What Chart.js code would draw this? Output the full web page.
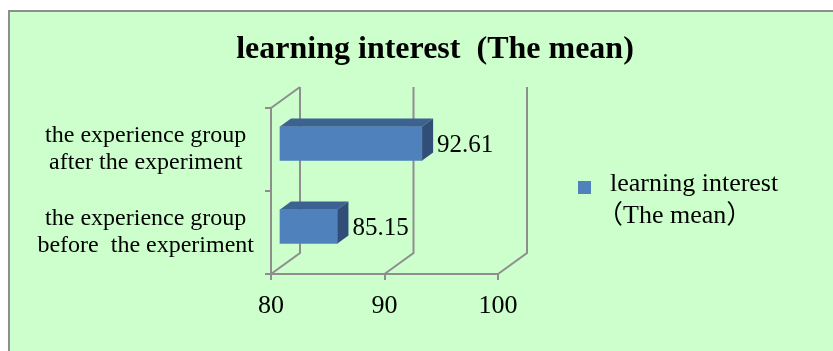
<!DOCTYPE html>
<html>
<head>
<meta charset="utf-8">
<script src="https://cdn.jsdelivr.net/npm/chart.js@4.4.0/dist/chart.umd.min.js"></script>
<style>
  html, body { margin: 0; padding: 0; background: #fff; }
  #wrap { width: 833px; height: 351px; }
</style>
</head>
<body>
<div id="wrap"><canvas id="chart" width="833" height="351"></canvas></div>
<script>
// data
const categories = [
    ["the experience group", "after the experiment"],
    ["the experience group", "before  the experiment"]
];
const meanValues = [92.61, 85.15];
const seriesLabel = ["learning interest", "（The mean）"];
const xTickValues = [80, 90, 100];
const chartTitle = "learning interest  (The mean)";

const SERIF = '"Liberation Serif", "Times New Roman", "Noto Sans CJK SC", serif';
const LINE = "#8e8e8e";
const BG = "#ccffcc";
const FRONT = "#4f81bd";
const TOP = "#3c6292";
const SIDE = "#304e78";

// fake 3d: back wall offset, bar placement inside the depth, bar depth
const WALL = { x: 29, y: -21 };
const SHIFT = { x: 8, y: -6 };
const BAR_D = { x: 11, y: -8 };

const background = {
    id: "background",
    beforeDraw(chart) {
        const ctx = chart.ctx;
        ctx.save();
        ctx.fillStyle = "#fff";
        ctx.fillRect(0, 0, chart.width, chart.height);
        ctx.fillStyle = BG;
        ctx.fillRect(8, 10, chart.width - 8, chart.height - 10);
        ctx.strokeStyle = LINE;
        ctx.lineWidth = 2;
        ctx.beginPath();
        ctx.moveTo(9, chart.height);
        ctx.lineTo(9, 11);
        ctx.lineTo(chart.width, 11);
        ctx.stroke();
        ctx.restore();
    }
};

const threeD = {
    id: "threeD",
    beforeDatasetsDraw(chart) {
        const { ctx, chartArea: a, scales: { x } } = chart;
        ctx.save();
        ctx.strokeStyle = LINE;
        ctx.lineWidth = 2;
        ctx.beginPath();
        ctx.moveTo(a.left, a.top);
        ctx.lineTo(a.left + WALL.x, a.top + WALL.y);
        xTickValues.forEach(v => {
            const px = x.getPixelForValue(v);
            ctx.moveTo(px, a.bottom);
            ctx.lineTo(px + WALL.x, a.bottom + WALL.y);
            ctx.lineTo(px + WALL.x, a.top + WALL.y);
        });
        ctx.stroke();
        ctx.restore();

        // bars sit a bit back from the front plane
        ctx.save();
        ctx.translate(SHIFT.x, SHIFT.y);
    },
    afterDatasetsDraw(chart) {
        const ctx = chart.ctx;
        const meta = chart.getDatasetMeta(0);
        meta.data.forEach((bar, i) => {
            const top = bar.y - bar.height / 2;
            const bottom = bar.y + bar.height / 2;
            ctx.fillStyle = TOP;
            ctx.beginPath();
            ctx.moveTo(bar.base, top);
            ctx.lineTo(bar.x, top);
            ctx.lineTo(bar.x + BAR_D.x, top + BAR_D.y);
            ctx.lineTo(bar.base + BAR_D.x, top + BAR_D.y);
            ctx.closePath();
            ctx.fill();

            ctx.fillStyle = SIDE;
            ctx.beginPath();
            ctx.moveTo(bar.x, top);
            ctx.lineTo(bar.x + BAR_D.x, top + BAR_D.y);
            ctx.lineTo(bar.x + BAR_D.x, bottom + BAR_D.y);
            ctx.lineTo(bar.x, bottom);
            ctx.closePath();
            ctx.fill();

            ctx.fillStyle = "#000";
            ctx.font = "25px " + SERIF;
            ctx.textAlign = "left";
            ctx.textBaseline = "middle";
            ctx.fillText(meanValues[i].toFixed(2), bar.x + BAR_D.x + 4, bar.y + 1.5);
        });
        ctx.restore();
    },
    afterDraw(chart) {
        // legend, two lines; the full-width bracket has blank space on its left
        const ctx = chart.ctx;
        const ds = chart.data.datasets[0];
        ctx.save();
        ctx.fillStyle = ds.backgroundColor;
        ctx.fillRect(578, 181, 13, 13);
        ctx.fillStyle = "#000";
        ctx.font = "26px " + SERIF;
        ctx.textAlign = "left";
        ctx.textBaseline = "middle";
        ctx.fillText(seriesLabel[0], 610, 184);
        ctx.fillText(seriesLabel[1], 597, 216);
        ctx.restore();
    }
};

new Chart(document.getElementById("chart"), {
    type: "bar",
    data: {
        labels: categories,
        datasets: [{
            label: seriesLabel.join(""),
            data: meanValues,
            base: 80,
            backgroundColor: FRONT,
            borderWidth: 0,
            barThickness: 34,
            clip: false
        }]
    },
    options: {
        indexAxis: "y",
        responsive: false,
        animation: false,
        devicePixelRatio: 1,
        layout: { padding: { left: 37, right: 0, top: 0, bottom: 0 } },
        scales: {
            x: {
                min: 80,
                max: 100,
                ticks: {
                    stepSize: 10,
                    padding: 11,
                    color: "#000",
                    font: { family: SERIF, size: 26 }
                },
                grid: { drawOnChartArea: false, tickLength: 6, color: LINE, lineWidth: 2 },
                border: { color: LINE, width: 2 },
                afterFit: s => { s.height = 77; }
            },
            y: {
                ticks: {
                    crossAlign: "center",
                    padding: 11,
                    color: "#000",
                    font: { family: SERIF, size: 24, lineHeight: 1.12 }
                },
                grid: { drawOnChartArea: false, tickLength: 6, color: LINE, lineWidth: 2 },
                border: { color: LINE, width: 2 },
                afterFit: s => { s.width = 234; }
            },
            // empty space on the right that holds the legend
            legendSpace: {
                type: "category",
                position: "right",
                labels: [""],
                grid: { display: false },
                border: { display: false },
                ticks: { display: false },
                afterFit: s => { s.width = 335; }
            }
        },
        plugins: {
            legend: { display: false },
            tooltip: { enabled: false },
            title: {
                display: true,
                text: chartTitle,
                color: "#000",
                font: { family: SERIF, size: 32, weight: "bold", lineHeight: 1.2 },
                padding: { top: 31, bottom: 38.6 }
            }
        }
    },
    plugins: [background, threeD]
});
</script>
</body>
</html>
